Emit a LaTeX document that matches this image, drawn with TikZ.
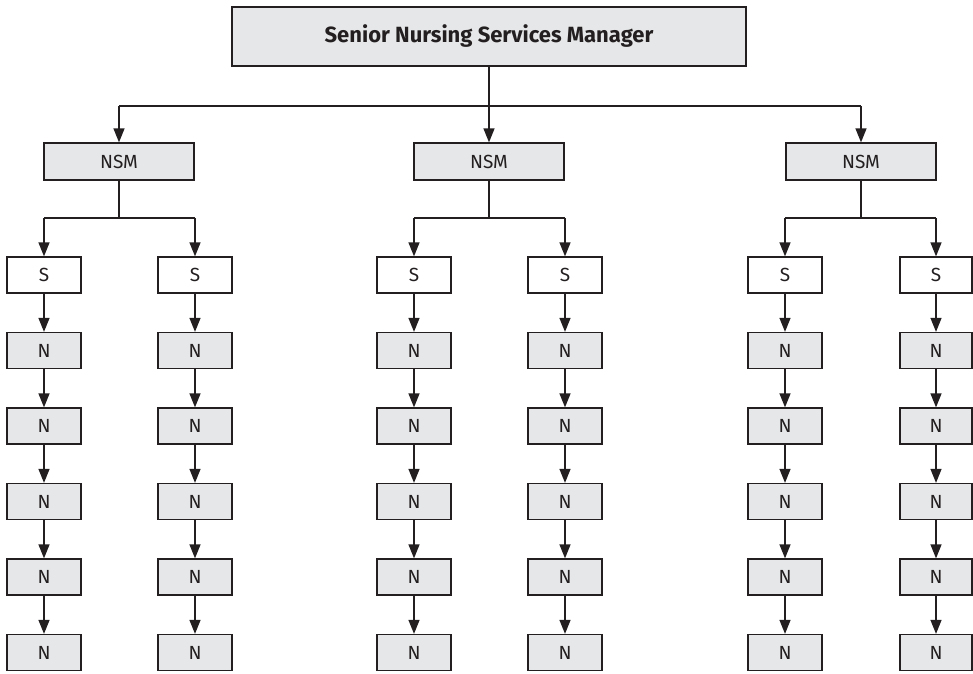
\documentclass[tikz,border=0pt]{standalone}
\usepackage{fontspec}
\setmainfont{Fira Sans}
\usetikzlibrary{arrows.meta}
\definecolor{boxgray}{HTML}{E6E7E8}
\definecolor{ink}{HTML}{231F20}
\begin{document}
\begin{tikzpicture}[x=1pt,y=-1pt,
  base/.style={draw=ink, line width=1.3pt, inner sep=0pt, text=ink, font=\fontsize{19}{22}\selectfont},
  graybox/.style={base, fill=boxgray},
  whitebox/.style={base, fill=white},
  topbox/.style={graybox, minimum width=514pt, minimum height=59pt, font=\fontsize{22}{24}\selectfont\bfseries},
  nsmbox/.style={graybox, minimum width=150pt, minimum height=37pt},
  sbox/.style={whitebox, minimum width=74pt, minimum height=36pt},
  nbox/.style={graybox, minimum width=74pt, minimum height=36pt},
  conn/.style={draw=ink, line width=1.3pt},
  arr/.style={conn, -{Triangle[length=14pt,width=11pt]}}
]
\useasboundingbox (0,0) rectangle (973,673);

\node[topbox] (top) at (489,36.5) {Senior Nursing Services Manager};

\node[nsmbox] (nsm1) at (119,161.5) {NSM};
\node[nsmbox] (nsm2) at (489,161.5) {NSM};
\node[nsmbox] (nsm3) at (861,161.5) {NSM};

\coordinate (bus) at (0,106);
\draw[conn] (nsm1.north |- bus) -- (nsm3.north |- bus);
\draw[conn] (top.south) -- (top.south |- bus);
\draw[arr] (nsm1.north |- bus) -- (nsm1.north);
\draw[arr] (nsm2.north |- bus) -- (nsm2.north);
\draw[arr] (nsm3.north |- bus) -- (nsm3.north);

\coordinate (jn) at (0,218);

\foreach \c/\x/\w in {a/44/74,b/195/74,c/414/74,d/565/74,e/785/74,f/936/72}{
  \node[sbox, minimum width=\w pt] (s\c) at (\x,275) {S};
  \node[nbox, minimum width=\w pt] (n\c1) at (\x,350.5) {N};
  \node[nbox, minimum width=\w pt] (n\c2) at (\x,426) {N};
  \node[nbox, minimum width=\w pt] (n\c3) at (\x,501.5) {N};
  \node[nbox, minimum width=\w pt] (n\c4) at (\x,577) {N};
  \node[nbox, minimum width=\w pt] (n\c5) at (\x,652.5) {N};
  \draw[arr] (s\c.south) -- (n\c1.north);
  \draw[arr] (n\c1.south) -- (n\c2.north);
  \draw[arr] (n\c2.south) -- (n\c3.north);
  \draw[arr] (n\c3.south) -- (n\c4.north);
  \draw[arr] (n\c4.south) -- (n\c5.north);
}

\foreach \p/\l/\r in {1/a/b,2/c/d,3/e/f}{
  \draw[conn] (nsm\p.south) -- (nsm\p.south |- jn);
  \draw[conn] (s\l.north |- jn) -- (s\r.north |- jn);
  \draw[arr] (s\l.north |- jn) -- (s\l.north);
  \draw[arr] (s\r.north |- jn) -- (s\r.north);
}
\end{tikzpicture}
\end{document}
